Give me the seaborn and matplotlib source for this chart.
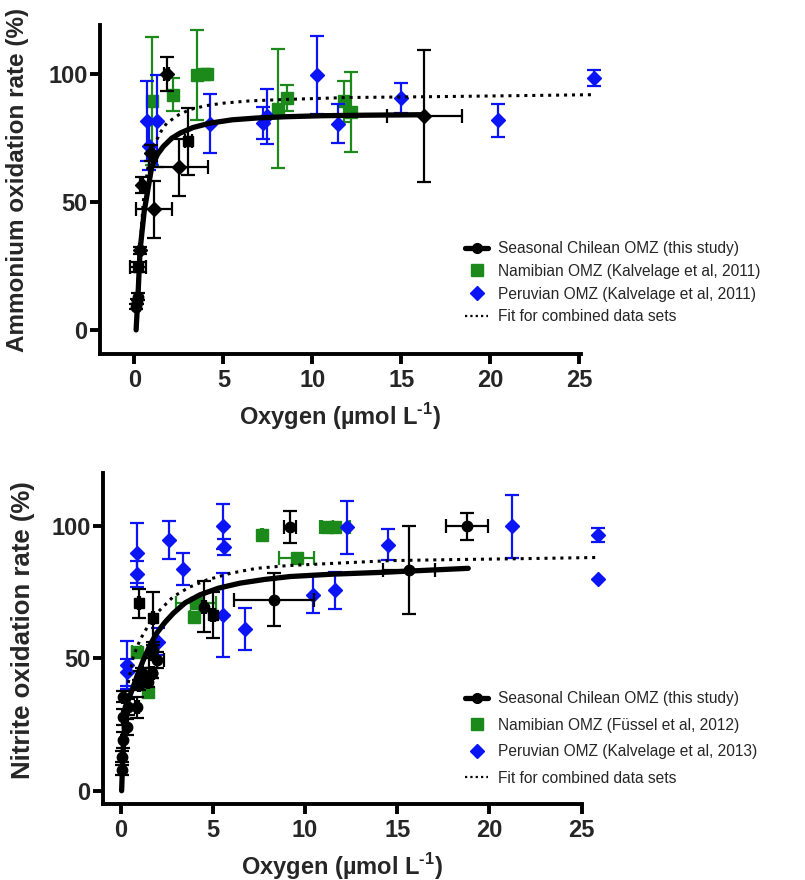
import numpy as np
import pandas as pd
import matplotlib
matplotlib.use("Agg")
import matplotlib.pyplot as plt
from matplotlib.lines import Line2D
import seaborn as sns

# ---- top panel: ammonium oxidation ----
amo_chile_x = [0.12, 0.15, 0.18, 0.22, 0.30, 0.42, 0.95, 1.12, 1.82, 2.49, 3.03, 16.3]
amo_chile_y = [9, 11, 13, 24.5, 31, 56.6, 69, 47, 100, 63.4, 73.6, 83.5]
amo_chile_xerr = [0.05, 0.05, 0.05, 0.45, 0.05, 0.08, 0.05, 1.0, 0.15, 1.65, 0.2, 2.1]
amo_chile_yerr = [1, 1, 1.5, 2, 1.5, 3, 3, 11.3, 6.7, 11.3, 13, 25.8]
amo_chile_mk = ['o', 'o', 'o', 's', 'D', 'D', 'D', 'D', 'D', 'D', 's', 'D']

amo_nam_x = [1.01, 2.19, 3.5, 3.9, 4.1, 8.05, 8.6, 11.78, 12.2]
amo_nam_y = [89.2, 91.8, 99.6, 100, 100, 86.3, 90.5, 89.2, 85]
amo_nam_yerr = [25, 6.5, 17.5, 1.5, 1.5, 23.2, 5.2, 8, 15.5]

amo_per_x = [0.73, 1.26, 0.84, 4.25, 7.21, 7.44, 10.25, 11.46, 14.97, 20.45, 25.84]
amo_per_y = [81.4, 81.4, 71.6, 80.5, 80.7, 83.3, 99.6, 80.5, 90.5, 81.8, 98.3]
amo_per_yerr = [15.6, 18, 9, 11.4, 6.3, 10.7, 15.3, 7.6, 6, 6.5, 3.3]

amo_fit_x = [0.1, 0.22, 0.32, 0.55, 0.79, 0.98, 1.3, 1.63, 2.1, 2.57, 3.3, 4.25, 5.5, 6.88, 8.5, 10.6, 13.0, 16.3]
amo_fit_y = [0, 15.6, 31, 46, 56, 63.8, 68.5, 71.6, 74.8, 76.8, 79.0, 80.7, 82.0, 82.7, 83.2, 83.6, 83.8, 84.0]
amo_comb_x = [0.15, 0.3, 0.5, 0.75, 1.07, 1.5, 1.82, 2.5, 3.13, 4.0, 5.0, 6.5, 8.75, 12.0, 17.7, 25.8]
amo_comb_y = [10, 30, 50, 63, 71.6, 77.5, 80.7, 84, 86, 87.5, 88.5, 89.4, 90, 90.7, 91.1, 91.8]

# ---- bottom panel: nitrite oxidation ----
nio_chile_x = [0.05, 0.05, 0.14, 0.14, 0.14, 0.33, 0.41, 0.87, 1.0, 1.05, 1.14, 1.5, 1.68, 1.71,
               1.77, 1.95, 1.01, 1.73, 4.52, 5.02, 8.33, 9.18, 15.65, 18.8]
nio_chile_y = [7.8, 12.9, 19.2, 28, 35.5, 24.2, 31.7, 31.5, 40, 43.1, 44.4, 41.2, 44.4, 44.4,
               53.2, 49.4, 70.8, 65.2, 69.5, 66.4, 72.1, 99.5, 83.4, 99.8]
nio_chile_xerr = [0.03, 0.03, 0.05, 0.05, 0.05, 0.05, 0.05, 0.1, 0.05, 0.05, 0.05, 0.05, 0.05, 0.1,
                  0.1, 0.4, 0.05, 0.05, 0.1, 0.1, 2.17, 0.35, 1.4, 1.13]
nio_chile_yerr = [2, 2, 3, 3, 2, 3, 3, 4, 2, 2, 2, 2, 2, 2, 3, 3, 5.5, 10, 9.6, 8.7, 10, 6, 16.6, 5.2]
nio_chile_mk = ['o'] * 16 + ['s', 's', 'o', 's', 'o', 'o', 'o', 'o']

nio_nam_x = [0.87, 1.5, 3.99, 4.08, 7.65, 9.54, 11.2, 11.62]
nio_nam_y = [52.3, 37.4, 65.8, 71, 96.6, 87.8, 99.5, 99.5]
nio_nam_xerr = [0.25, 0.05, 0.25, 1.1, 0.05, 0.93, 0.3, 0.8]

nio_per_x = [0.33, 0.33, 0.87, 0.87, 2.04, 2.62, 3.36, 5.53, 5.6, 5.53, 6.74, 10.41, 11.62, 12.26,
             14.48, 21.2, 25.9, 25.9]
nio_per_y = [47.5, 44.7, 89.7, 81.8, 56.3, 94.7, 83.8, 99.8, 92, 66.4, 61, 74, 75.8, 99.5,
             92.9, 99.8, 96.6, 79.9]
nio_per_yerr = [9, 5, 11.3, 5, 5, 7, 6, 8.6, 3, 16, 8, 7, 7, 10, 5.8, 12, 2.6, 0]

nio_fit_x = [0.05, 0.12, 0.23, 0.4, 0.68, 0.95, 1.23, 1.59, 1.95, 2.4, 2.85, 3.5, 4.3, 5.3, 6.47,
             7.8, 9.18, 11.5, 14.24, 18.85]
nio_fit_y = [0, 14, 26.7, 34, 39.3, 44.5, 49.4, 55, 59.5, 63.6, 67, 71, 74, 76.5, 78.4,
             79.8, 80.9, 81.8, 82.5, 84]
nio_comb_x = [0.41, 0.68, 1.05, 1.5, 1.95, 2.85, 3.7, 4.66, 6.0, 7.37, 9.0, 10.99, 14.6, 18.0, 21.3, 25.9]
nio_comb_y = [40.7, 50.6, 57, 62.5, 67, 73.3, 76.8, 79.6, 82.2, 84, 85, 85.7, 86.9, 87.3, 87.6, 88.1]

legend_top = ['Seasonal Chilean OMZ (this study)', 'Namibian OMZ (Kalvelage et al, 2011)',
              'Peruvian OMZ (Kalvelage et al, 2011)', 'Fit for combined data sets']
legend_bot = ['Seasonal Chilean OMZ (this study)', 'Namibian OMZ (Füssel et al, 2012)',
              'Peruvian OMZ (Kalvelage et al, 2013)', 'Fit for combined data sets']

GREEN = '#1b8a1b'
BLUE = '#0a14f5'

sns.set_theme(style='ticks')
plt.rcParams['font.family'] = ['Liberation Sans', 'DejaVu Sans']
plt.rcParams['mathtext.fontset'] = 'custom'
plt.rcParams['mathtext.bf'] = 'Liberation Sans:bold'
plt.rcParams['mathtext.rm'] = 'Liberation Sans:bold'

fig = plt.figure(figsize=(8.05, 8.8), dpi=100)
ax1 = fig.add_axes([100 / 805, 1 - 354 / 880, 481 / 805, 329 / 880])
ax2 = fig.add_axes([103 / 805, 1 - 804 / 880, 479 / 805, 331 / 880])


def unclip(cont):
    for a in cont.get_children():
        a.set_clip_on(False)


def draw_errs(ax, xs, ys, xerr, yerr, color, marker, ms, z):
    for i in range(len(xs)):
        mk = marker[i] if isinstance(marker, list) else marker
        xe = None if xerr is None else xerr[i]
        ye = None if yerr is None else (yerr[i] if yerr[i] > 0 else None)
        c = ax.errorbar(xs[i], ys[i], xerr=xe, yerr=ye, fmt=mk, color=color, ms=ms,
                        mec=color, elinewidth=1.6, capsize=5, capthick=1.6, zorder=z)
        unclip(c)


def panel(ax, chx, chy, chxe, chye, chmk, nx, ny, nxe, nye, px, py, pye,
          fx, fy, cx, cy, ylabel, ylsize, labels, leg_anchor, lspace):
    draw_errs(ax, nx, ny, nxe, nye, GREEN, 's', 8, 3)
    draw_errs(ax, px, py, None, pye, BLUE, 'D', 7, 4)
    sns.lineplot(x=fx, y=fy, ax=ax, color='black', lw=3.8, zorder=5, sort=False)
    sns.lineplot(x=cx, y=cy, ax=ax, color='black', lw=2.2, ls=(0, (1, 1.6)), zorder=5, sort=False)
    for l in ax.lines:
        l.set_clip_on(False)
    draw_errs(ax, chx, chy, chxe, chye, 'black', chmk, 7.5, 6)

    ax.set_yticks([0, 50, 100])
    ax.set_xticks([0, 5, 10, 15, 20, 25])
    for s in ['left', 'bottom']:
        ax.spines[s].set_linewidth(2.8)
        ax.spines[s].set_color('black')
    sns.despine(ax=ax)
    ax.tick_params(axis='both', width=2.8, length=7, color='black', labelsize=17, pad=2)
    ax.tick_params(axis='x', pad=4)
    for t in ax.get_xticklabels() + ax.get_yticklabels():
        t.set_fontweight('bold')
    ax.set_xlabel(r'Oxygen (µmol L$^{\text{-1}}$)', fontsize=17,
                  fontweight='bold', labelpad=6)
    ax.set_ylabel(ylabel, fontsize=ylsize, fontweight='bold')

    handles = [Line2D([], [], color='black', lw=3.8, marker='o', ms=7),
               Line2D([], [], color=GREEN, lw=0, marker='s', ms=8),
               Line2D([], [], color=BLUE, lw=0, marker='D', ms=7),
               Line2D([], [], color='black', lw=1.6, ls=(0, (1, 1.4)))]
    fig.legend(handles, labels, loc='upper left', bbox_to_anchor=leg_anchor, frameon=False,
               fontsize=11.2, borderpad=0, borderaxespad=0, handlelength=1.5,
               handletextpad=0.65, labelspacing=lspace)


panel(ax1, amo_chile_x, amo_chile_y, amo_chile_xerr, amo_chile_yerr, amo_chile_mk,
      amo_nam_x, amo_nam_y, None, amo_nam_yerr, amo_per_x, amo_per_y, amo_per_yerr,
      amo_fit_x, amo_fit_y, amo_comb_x, amo_comb_y, 'Ammonium oxidation rate (%)', 17.5,
      legend_top, (465 / 805, 1 - 241 / 880), 0.5)
ax1.set_xlim(-1.93, 25.1)
ax1.set_ylim(-9.4, 119)
ax1.yaxis.set_label_coords(-0.148, 0.53)

panel(ax2, nio_chile_x, nio_chile_y, nio_chile_xerr, nio_chile_yerr, nio_chile_mk,
      nio_nam_x, nio_nam_y, nio_nam_xerr, None, nio_per_x, nio_per_y, nio_per_yerr,
      nio_fit_x, nio_fit_y, nio_comb_x, nio_comb_y, 'Nitrite oxidation rate (%)', 18.5,
      legend_bot, (465 / 805, 1 - 691 / 880), 0.74)
ax2.set_xlim(-0.96, 25.02)
ax2.set_ylim(-5, 120)
ax2.yaxis.set_label_coords(-0.142, 0.524)

fig.savefig('out.png', dpi=100)
